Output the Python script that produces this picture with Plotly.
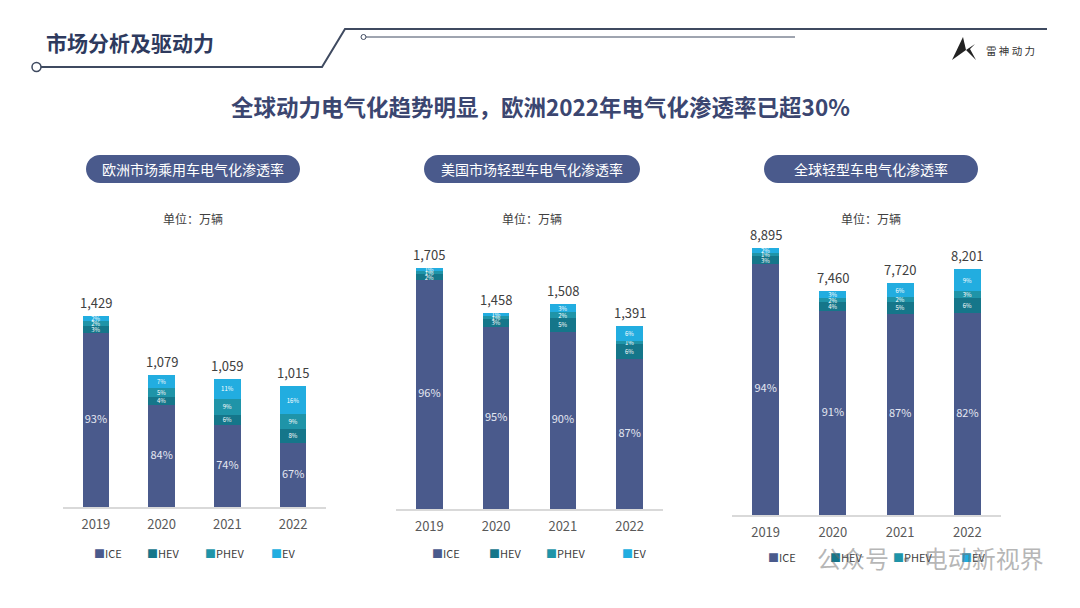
import plotly.graph_objects as go

# canvas size, everything positioned in pixels then converted to paper
W, H = 1080, 608


def px(x):
    return x / W


def py(y):
    return 1 - y / H


FONT = "Noto Sans CJK SC"

years = ['2019', '2020', '2021', '2022']
series = ['ICE', 'HEV', 'PHEV', 'EV']
colors = ['#4a5a8c', '#15768a', '#1f94a8', '#22ade0']

# Europe passenger cars (10k units) and shares (%)
eu_total = [1429, 1079, 1059, 1015]
eu_ice = [93, 84, 74, 67]
eu_hev = [3, 4, 6, 8]
eu_phev = [2, 5, 9, 9]
eu_ev = [2, 7, 11, 16]

# US light vehicles
us_total = [1705, 1458, 1508, 1391]
us_ice = [96, 95, 90, 87]
us_hev = [2, 3, 5, 6]
us_phev = [1, 1, 2, 1]
us_ev = [1, 1, 3, 6]

# Global light vehicles
gl_total = [8895, 7460, 7720, 8201]
gl_ice = [94, 91, 87, 82]
gl_hev = [3, 4, 5, 6]
gl_phev = [1, 2, 2, 3]
gl_ev = [2, 3, 6, 9]

panel_titles = ['欧洲市场乘用车电气化渗透率', '美国市场轻型车电气化渗透率', '全球轻型车电气化渗透率']

panels = [
    dict(total=eu_total, shares=[eu_ice, eu_hev, eu_phev, eu_ev],
         xdom=(63, 326), ydom=(507, 220), yrange=(300, 2000),
         pill=(86, 300), legx=[92, 145, 203, 269], legy=553),
    dict(total=us_total, shares=[us_ice, us_hev, us_phev, us_ev],
         xdom=(396, 663), ydom=(509, 213), yrange=(400, 2000),
         pill=(424, 640), legx=[430, 487, 544, 620], legy=553),
    dict(total=gl_total, shares=[gl_ice, gl_hev, gl_phev, gl_ev],
         xdom=(732, 1001), ydom=(515, 215), yrange=(0, 10000),
         pill=(764, 978), legx=[766, 828, 891, 959], legy=557),
]

fig = go.Figure()
shapes = []
annotations = []


def pill_path(x0, y0, x1, y1):
    r = (y1 - y0) / 2
    k = 0.5523 * r
    ym = (y0 + y1) / 2
    pts = [
        f"M{px(x0 + r)},{py(y0)}",
        f"L{px(x1 - r)},{py(y0)}",
        f"C{px(x1 - r + k)},{py(y0)} {px(x1)},{py(ym - k)} {px(x1)},{py(ym)}",
        f"C{px(x1)},{py(ym + k)} {px(x1 - r + k)},{py(y1)} {px(x1 - r)},{py(y1)}",
        f"L{px(x0 + r)},{py(y1)}",
        f"C{px(x0 + r - k)},{py(y1)} {px(x0)},{py(ym + k)} {px(x0)},{py(ym)}",
        f"C{px(x0)},{py(ym - k)} {px(x0 + r - k)},{py(y0)} {px(x0 + r)},{py(y0)}",
        "Z",
    ]
    return " ".join(pts)


def note(x, y, text, size, color, xanchor='center', bold=False):
    if bold:
        text = f"<b>{text}</b>"
    annotations.append(dict(x=px(x), y=py(y), xref='paper', yref='paper', text=text,
                            showarrow=False, xanchor=xanchor, yanchor='middle',
                            font=dict(size=size, color=color, family=FONT)))


for i, p in enumerate(panels):
    n = '' if i == 0 else str(i + 1)
    xa, ya = 'x' + n, 'y' + n
    ymin = p['yrange'][0]

    for s, name in enumerate(series):
        vals = [t * v / 100 for t, v in zip(p['total'], p['shares'][s])]
        fig.add_trace(go.Bar(
            x=years, y=vals, name=name, xaxis=xa, yaxis=ya,
            marker=dict(color=colors[s], line=dict(width=0)),
            text=None if s == 0 else [f"{v}%" for v in p['shares'][s]],
            textposition='inside', insidetextanchor='middle', textangle=0,
            textfont=dict(size=6, color='white', family=FONT),
            showlegend=False, hoverinfo='skip',
        ))

    # ICE share label at centre of the visible part of the bar
    ice_vals = [t * v / 100 for t, v in zip(p['total'], p['shares'][0])]
    fig.add_trace(go.Scatter(
        x=years, y=[(ymin + v) / 2 for v in ice_vals], mode='text',
        text=[f"{v}%" for v in p['shares'][0]], xaxis=xa, yaxis=ya,
        textfont=dict(size=11, color='#e4e7f1', family=FONT),
        showlegend=False, hoverinfo='skip',
    ))

    # totals above the bars (category index as x)
    for j, t in enumerate(p['total']):
        annotations.append(dict(
            x=j, y=t, xref=xa, yref=ya, text=f"{t:,}", showarrow=False,
            yanchor='bottom', yshift=2, font=dict(size=13, color='#404040', family=FONT)))

    fig.update_layout({
        'xaxis' + n: dict(domain=[px(p['xdom'][0]), px(p['xdom'][1])], anchor=ya,
                          type='category', categoryarray=years, range=[-0.5, 3.5],
                          showline=True, linecolor='#d9d9d9', linewidth=1.5,
                          ticks='', showgrid=False, fixedrange=True, ticklabelstandoff=5,
                          tickfont=dict(size=13, color='#595959', family=FONT)),
        'yaxis' + n: dict(domain=[py(p['ydom'][0]), py(p['ydom'][1])], anchor=xa,
                          range=list(p['yrange']), visible=False, showgrid=False,
                          fixedrange=True),
    })

    # panel title pill
    x0, x1 = p['pill']
    shapes.append(dict(type='path', path=pill_path(x0, 155, x1, 183), xref='paper', yref='paper',
                       fillcolor='#4a5a8c', line=dict(width=0), layer='below'))
    note((x0 + x1) / 2, 169, panel_titles[i], 14, 'white')
    note((x0 + x1) / 2, 218, '单位：万辆', 12, '#404040')

    # legend row
    for s, name in enumerate(series):
        note(p['legx'][s], p['legy'], f"<span style='color:{colors[s]}'>■</span>{name}",
             11, '#404040', xanchor='left')

# header decoration
line_col = '#3f4a60'
shapes += [
    dict(type='path', xref='paper', yref='paper',
         path=f"M{px(41)},{py(67)} L{px(322)},{py(67)} L{px(345)},{py(29)} L{px(1047)},{py(29)}",
         line=dict(color=line_col, width=2)),
    dict(type='circle', xref='paper', yref='paper', x0=px(32), x1=px(41), y0=py(71.5), y1=py(62.5),
         line=dict(color=line_col, width=1.5), fillcolor='white'),
    dict(type='line', xref='paper', yref='paper', x0=px(366), x1=px(795), y0=py(37), y1=py(37),
         line=dict(color=line_col, width=1)),
    dict(type='circle', xref='paper', yref='paper', x0=px(361), x1=px(366), y0=py(39.5), y1=py(34.5),
         line=dict(color=line_col, width=1), fillcolor='white'),
    # small logo mark
    dict(type='path', xref='paper', yref='paper',
         path=f"M{px(963)},{py(37)} L{px(966)},{py(50)} L{px(952)},{py(60)} Z",
         fillcolor='#222222', line=dict(width=0)),
    dict(type='path', xref='paper', yref='paper',
         path=f"M{px(966)},{py(50)} L{px(975)},{py(44)} L{px(970)},{py(49)} L{px(976)},{py(60)} Z",
         fillcolor='#222222', line=dict(width=0)),
]

note(44, 42, '市场分析及驱动力', 21, '#2e3a5e', xanchor='left', bold=True)
note(984, 50, '雷 神 动 力', 10.5, '#333333', xanchor='left')
note(540, 106, '全球动力电气化趋势明显，欧洲2022年电气化渗透率已超30%', 22.5, '#3b4670', bold=True)
note(1046, 557, '公众号 · 电动新视界', 24, 'rgba(110,110,110,0.5)', xanchor='right')

fig.update_layout(
    width=W, height=H, margin=dict(l=0, r=0, t=0, b=0),
    paper_bgcolor='white', plot_bgcolor='rgba(0,0,0,0)',
    barmode='stack', bargap=0.6,
    uniformtext=dict(minsize=6, mode='show'),
    shapes=shapes, annotations=annotations,
    font=dict(family=FONT),
)

fig.write_html("out.html", config={'displayModeBar': False},
               post_script="document.body.style.margin='0';")
